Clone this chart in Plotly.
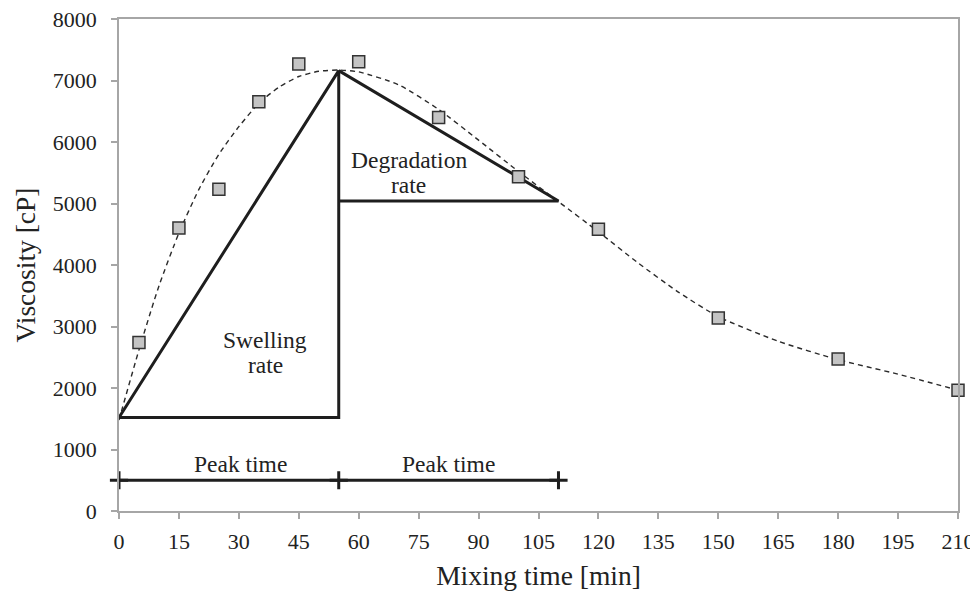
import plotly.graph_objects as go

# measured viscosity points
time_pts = [5, 15, 25, 35, 45, 60, 80, 100, 120, 150, 180, 210]
visc_pts = [2740, 4600, 5230, 6655, 7268, 7305, 6400, 5434, 4583, 3140, 2470, 1964]

# dashed trend curve
curve_x = [0, 5, 10, 15, 20, 25, 30, 35, 40, 45, 50, 55, 60, 70, 80, 90, 100, 110, 120, 130, 140, 150, 165, 180, 195, 210]
curve_y = [1480, 2620, 3660, 4520, 5230, 5800, 6250, 6630, 6890, 7065, 7150, 7170, 7140, 6930, 6530, 6030, 5520, 5030, 4540, 4030, 3560, 3160, 2760, 2460, 2225, 1965]

# swelling-rate triangle
swell_x = [0, 55, 55, 0]
swell_y = [1520, 7160, 1520, 1520]

# degradation-rate triangle
degr_x = [55, 110, 55]
degr_y = [7160, 5040, 5040]

# peak time bar
peak_x = [0, 55, 110]
peak_y = [500, 500, 500]

x_ticks = list(range(0, 211, 15))
y_ticks = list(range(0, 8001, 1000))

FONT = "Liberation Serif"
DARK = "#1e1e1e"
AX = "#a6a6a6"
TXT = "#222222"

fig = go.Figure()

fig.add_trace(go.Scatter(x=curve_x, y=curve_y, mode="lines",
                         line=dict(color="#2a2a2a", width=1.4, dash="5px,4px", shape="spline", smoothing=0.6),
                         hoverinfo="skip", showlegend=False))
fig.add_trace(go.Scatter(x=swell_x, y=swell_y, mode="lines",
                         line=dict(color=DARK, width=3), showlegend=False))
fig.add_trace(go.Scatter(x=degr_x, y=degr_y, mode="lines",
                         line=dict(color=DARK, width=3), showlegend=False))
fig.add_trace(go.Scatter(x=peak_x, y=peak_y, mode="lines+markers",
                         line=dict(color=DARK, width=3), cliponaxis=False,
                         marker=dict(symbol="cross-thin", size=13, line=dict(color=DARK, width=3)),
                         showlegend=False))
fig.add_trace(go.Scatter(x=time_pts, y=visc_pts, mode="markers", cliponaxis=False,
                         marker=dict(symbol="square", size=12, color="#c4c4c4",
                                     line=dict(color="#333333", width=1.5)),
                         showlegend=False))

ann_font = dict(family=FONT, size=23.5, color=TXT)
fig.add_annotation(x=36.6, y=2777, text="Swelling", showarrow=False, font=ann_font)
fig.add_annotation(x=36.6, y=2371, text="rate", showarrow=False, font=ann_font)
fig.add_annotation(x=72.5, y=5707, text="Degradation", showarrow=False, font=ann_font)
fig.add_annotation(x=72.5, y=5296, text="rate", showarrow=False, font=ann_font)
fig.add_annotation(x=30.3, y=760, text="Peak time", showarrow=False, font=ann_font)
fig.add_annotation(x=82.5, y=760, text="Peak time", showarrow=False, font=ann_font)

fig.update_layout(
    width=970, height=586,
    margin=dict(l=111, r=20, t=11, b=83),
    paper_bgcolor="white", plot_bgcolor="white",
    font=dict(family=FONT, color=TXT),
    xaxis=dict(range=[0, 210], tickvals=x_ticks, ticktext=[str(v) for v in x_ticks],
               automargin=False, ticklabeloverflow="allow",
               showgrid=False, zeroline=False, showline=True, linecolor=AX, linewidth=1.5,
               mirror=True, ticks="outside", ticklen=6, tickcolor=AX, tickwidth=1.5,
               ticklabelstandoff=4,
               tickfont=dict(family=FONT, size=22, color=TXT),
               title=dict(text="Mixing time [min]", font=dict(family=FONT, size=27.5, color=TXT), standoff=13)),
    yaxis=dict(range=[0, 8000], tickvals=y_ticks, ticktext=[str(v) for v in y_ticks],
               automargin=False, ticklabeloverflow="allow",
               showgrid=False, zeroline=False, showline=True, linecolor=AX, linewidth=1.5,
               mirror=True, ticks="outside", ticklen=6, tickcolor=AX, tickwidth=1.5,
               ticklabelstandoff=10,
               tickfont=dict(family=FONT, size=22, color=TXT),
               title=dict(text="Viscosity [cP]", font=dict(family=FONT, size=27.5, color=TXT), standoff=9)),
)

fig.write_html("out.html")
